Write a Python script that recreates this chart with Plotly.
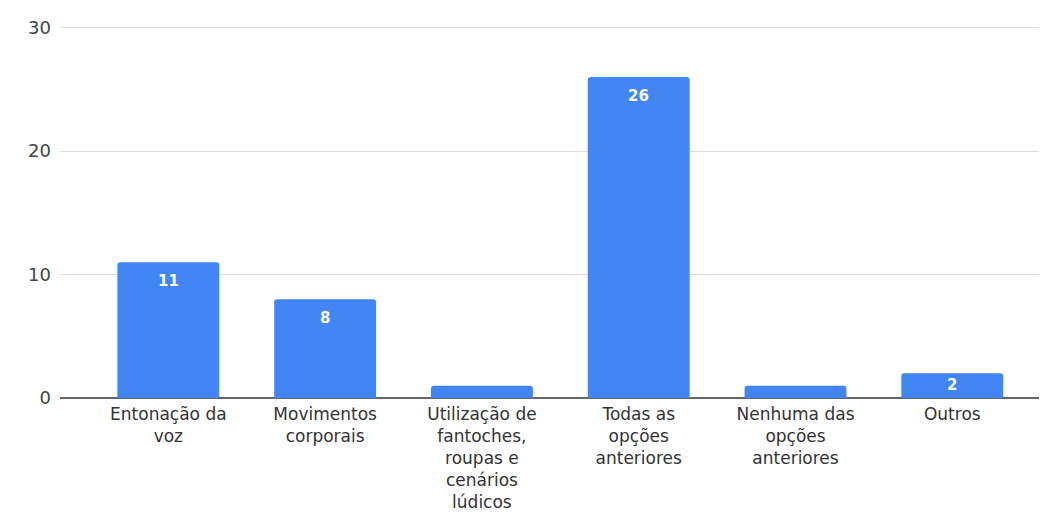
import plotly.graph_objects as go

categories = [
    "Entonação da<br>voz",
    "Movimentos<br>corporais",
    "Utilização de<br>fantoches,<br>roupas e<br>cenários<br>lúdicos",
    "Todas as<br>opções<br>anteriores",
    "Nenhuma das<br>opções<br>anteriores",
    "Outros",
]
values = [11, 8, 1, 26, 1, 2]
y_ticks = [0, 10, 20, 30]

FONT = "DejaVu Sans, Verdana, sans-serif"

fig = go.Figure(go.Bar(
    x=categories,
    y=values,
    width=0.65,
    marker=dict(color="#4285F4", line=dict(width=0)),
    hoverinfo="skip",
))

# value labels near the top inside each bar (tiny bars unlabeled)
for c, v in zip(categories, values):
    if v > 1:
        fig.add_annotation(
            x=c, y=v, text=str(v), showarrow=False,
            yanchor="middle", yshift=-min(19, v * 6),
            font=dict(color="white", size=15, family=FONT, weight="bold"),
        )

fig.update_layout(
    width=1039,
    height=521,
    margin=dict(l=52, r=0, t=16, b=131),
    paper_bgcolor="white",
    plot_bgcolor="white",
    barcornerradius=3,
    showlegend=False,
    font=dict(family=FONT, color="#333333", size=17),
)
fig.update_xaxes(
    range=[-0.691, 5.604],
    showgrid=False,
    showline=False,
    ticks="",
    ticklabelstandoff=4,
    tickfont=dict(size=17, color="#333333", family=FONT),
    tickangle=0,
)
fig.update_yaxes(
    range=[0, 30.3],
    tickvals=y_ticks,
    showgrid=True,
    gridcolor="#dddddd",
    gridwidth=1,
    zeroline=True,
    zerolinecolor="#666666",
    zerolinewidth=2,
    ticks="",
    ticklabelstandoff=8,
    tickfont=dict(size=18, color="#444444", family=FONT),
)

fig.write_html("out.html")
